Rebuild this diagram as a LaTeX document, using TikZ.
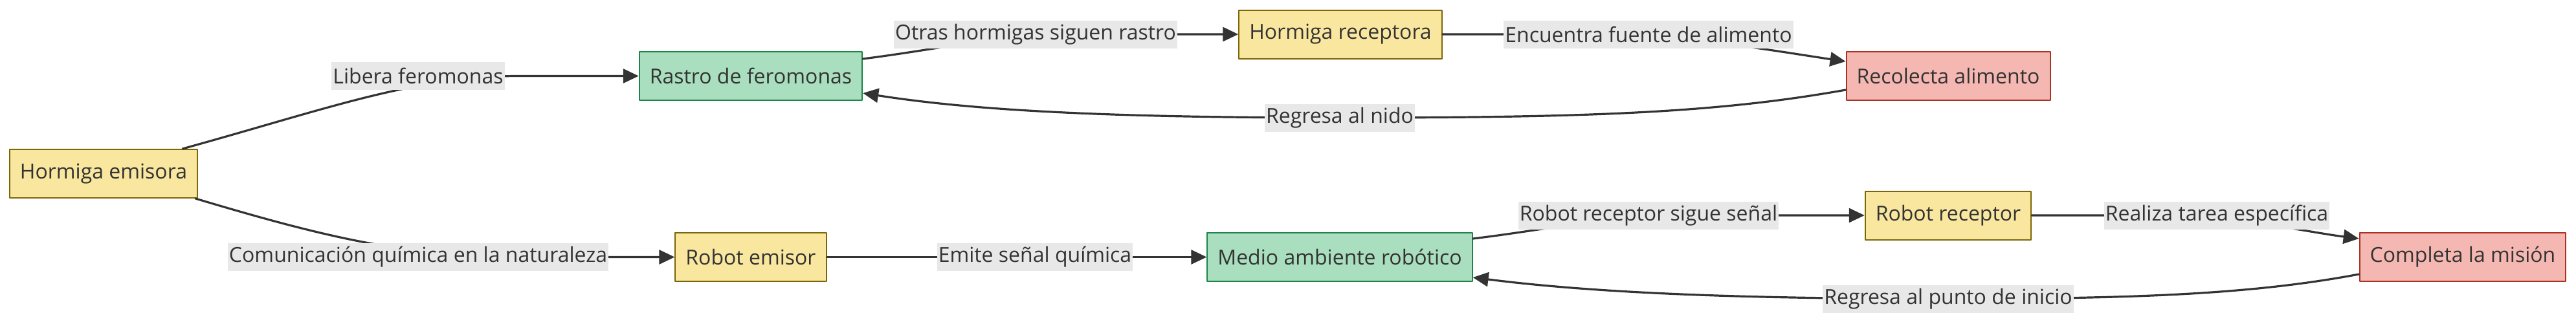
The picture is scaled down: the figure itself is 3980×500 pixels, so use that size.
\documentclass[tikz,border=0pt]{standalone}
\usepackage{fontspec}
\setmainfont{Open Sans}
\usetikzlibrary{arrows.meta}
\definecolor{ink}{HTML}{333333}
\definecolor{antfill}{HTML}{F9E79F}
\definecolor{antdraw}{HTML}{7D6608}
\definecolor{trailfill}{HTML}{A9DFBF}
\definecolor{traildraw}{HTML}{1E8449}
\definecolor{goalfill}{HTML}{F5B7B1}
\definecolor{goaldraw}{HTML}{A93226}
\definecolor{lblfill}{HTML}{E8E8E8}
\tikzset{
  box/.style={draw, line width=1pt, minimum height=37.5pt, inner xsep=8pt, inner ysep=0pt,
    text=ink, font=\fontsize{16pt}{19pt}\selectfont},
  ant/.style={box, fill=antfill, draw=antdraw},
  trail/.style={box, fill=trailfill, draw=traildraw},
  goal/.style={box, fill=goalfill, draw=goaldraw},
  edgelabel/.style={fill=lblfill, text=ink, minimum height=21.5pt, inner xsep=1pt, inner ysep=0pt,
    font=\fontsize{16pt}{19pt}\selectfont},
  flow/.style={draw=ink, line width=1.6pt, -{Triangle[length=12pt,width=11pt]}}
}

\begin{document}
\begin{tikzpicture}[line cap=round,line join=round,x=0.5pt,y=-0.5pt]
    \useasboundingbox (0,0) rectangle (3980,500);

    % Nodes
    \draw(160,268.5) node[ant] (he) {Hormiga emisora};
    \draw(1160,117.5) node[trail] (rf) {Rastro de feromonas};
    \draw(2071,53) node[ant] (hr) {Hormiga receptora};
    \draw(3010,117.5) node[goal] (ra) {Recolecta alimento};
    \draw(1160,397.5) node[ant] (re) {Robot emisor};
    \draw(2070,397.5) node[trail] (ma) {Medio ambiente robótico};
    \draw(3010,333) node[ant] (rr) {Robot receptor};
    \draw(3805,397.5) node[goal] (cm) {Completa la misión};

    % Edges (ants)
    \draw[flow] ([xshift=-12pt]he.north east) .. controls (500,170) and (640,117.5) .. (800,117.5) -- (rf);
    \draw[flow] ([yshift=-6pt]rf.north east) .. controls (1460,75) and (1540,53) .. (1700,53) -- (hr);
    \draw[flow] (hr) -- (2450,53) .. controls (2600,53) and (2750,80) .. ([yshift=-8pt]ra.north west);
    \draw[flow] ([yshift=8.5pt]ra.south west) .. controls (2650,175) and (2450,182) .. (2070,182)
        .. controls (1700,182) and (1500,170) .. ([yshift=6pt]rf.south east);

    % Edges (robots)
    \draw[flow] ([xshift=-2pt]he.south east) .. controls (480,360) and (620,397.5) .. (800,397.5) -- (re);
    \draw[flow] (re) -- (ma);
    \draw[flow] ([yshift=-5pt]ma.north east) .. controls (2400,354) and (2480,333) .. (2640,333) -- (rr);
    \draw[flow] (rr) -- (3330,333) .. controls (3450,333) and (3560,358) .. ([yshift=-5pt]cm.north west);
    \draw[flow] ([yshift=6pt]cm.south west) .. controls (3480,455) and (3300,462) .. (3010,462)
        .. controls (2720,462) and (2480,455) .. ([yshift=3.5pt]ma.south east);

    % Edge labels
    \foreach \x/\y/\n/\t in {646/117.5/lf/Libera feromonas,
        646/397.5/cq/Comunicación química en la naturaleza,
        1600/53/os/Otras hormigas siguen rastro,
        2547/53/ef/Encuentra fuente de alimento,
        2070/182/rn/Regresa al nido,
        1599/397.5/es/Emite señal química,
        2547/333/rs/Robot receptor sigue señal,
        3425/333/rt/Realiza tarea específica,
        3010/462/rp/Regresa al punto de inicio} {
            \draw(\x,\y) node[edgelabel] (\n) {\t};
        }
\end{tikzpicture}
\end{document}
